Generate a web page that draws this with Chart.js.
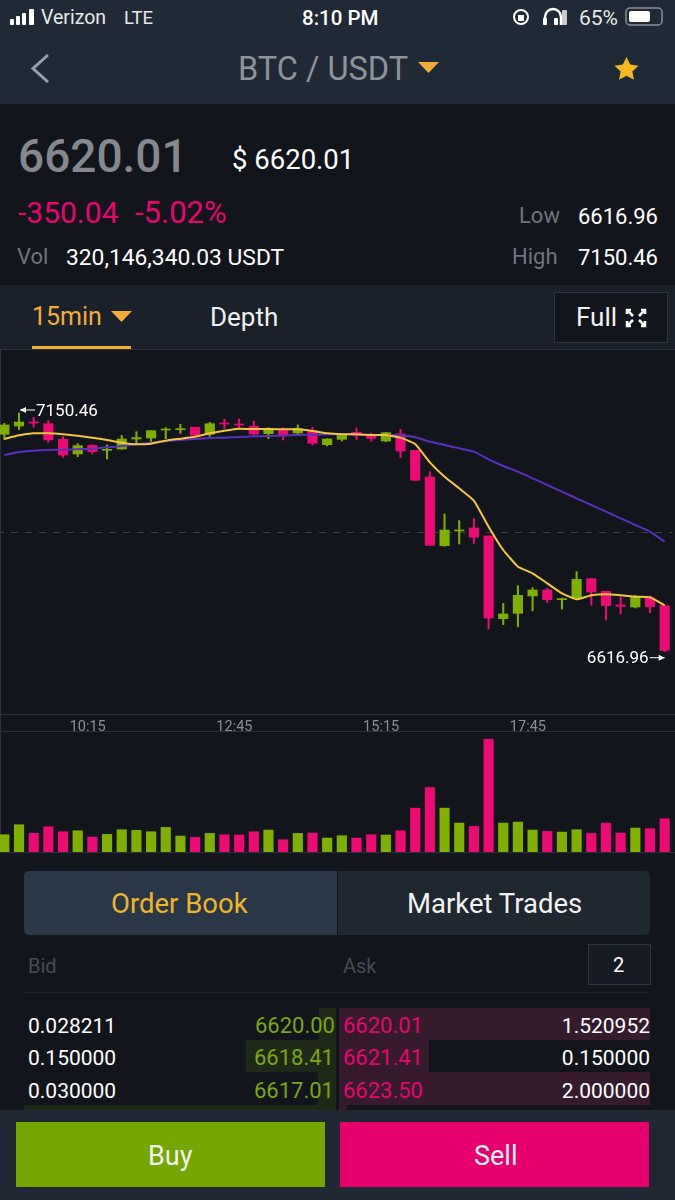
<!DOCTYPE html>
<html>
<head>
<meta charset="utf-8">
<script src="https://cdn.jsdelivr.net/npm/chart.js@4"></script>
<style>
html, body { margin: 0; padding: 0; background: #12151c; }
body { position: relative; width: 675px; height: 1200px; overflow: hidden; font-family: Roboto, sans-serif; color: #fff; }
.b { position: absolute; }
.t { position: absolute; line-height: 0; white-space: nowrap; }
canvas { position: absolute; }
</style>
</head>
<body>
<!-- top bars -->
<div class="b" style="left:0;top:0;width:675px;height:104px;background:#202a36"></div>
<div class="b" style="left:0;top:285px;width:675px;height:64px;background:#1a212a"></div>
<div class="b" style="left:32px;top:346px;width:99px;height:3px;background:#f5ac37"></div>
<div class="b" style="left:554px;top:292px;width:112px;height:49px;background:#12151c;border:1px solid #2c3541"></div>
<div class="b" style="left:0;top:349px;width:675px;height:1px;background:#2c323b"></div>
<div class="b" style="left:0;top:350px;width:1px;height:502px;background:#2c323b"></div>
<div class="b" style="left:0;top:714px;width:675px;height:1px;background:#2c323b"></div>
<div class="b" style="left:0;top:731px;width:675px;height:1px;background:#2c323b"></div>
<div class="b" style="left:0;top:852px;width:675px;height:1px;background:#2c323b"></div>

<!-- status bar -->
<svg class="b" style="left:0;top:0" width="675" height="104">
  <rect x="10" y="19" width="4" height="6" rx="1" fill="#fff"/>
  <rect x="16" y="16" width="4" height="9" rx="1" fill="#fff"/>
  <rect x="22" y="13" width="4" height="12" rx="1" fill="#fff"/>
  <rect x="29" y="9" width="5" height="16" rx="1" fill="#fff"/>
  <circle cx="521" cy="17" r="7" fill="none" stroke="#fff" stroke-width="2"/>
  <rect x="518" y="15" width="6" height="6" fill="#fff"/>
  <path d="M545 25v-8a8 8 0 0 1 16 0v8" fill="none" stroke="#fff" stroke-width="2.5"/>
  <rect x="543" y="18" width="4" height="7" rx="1" fill="#fff"/>
  <rect x="554" y="18" width="4" height="7" rx="1" fill="#fff"/>
  <rect x="562" y="10" width="5" height="15" rx="1" fill="#ccc"/>
  <rect x="626" y="8" width="36" height="17" rx="4" fill="none" stroke="#8a8f96" stroke-width="1.5"/>
  <rect x="629" y="11" width="21" height="11" rx="2" fill="#fff"/>
  <path d="M48 55l-15 13.500l15 13.500" fill="none" stroke="#9aa0a8" stroke-width="3"/>
  <path d="M418 62h21l-10.500 11z" fill="#f5ac37"/>
  <path d="M626.500 57l3.700 7.600l8.300 1.100l-6.100 5.800l1.500 8.300l-7.400-4l-7.400 4l1.500-8.300l-6.100-5.800l8.300-1.100z" fill="#f5b81f"/>
</svg>
<span class="t" style="left:41px;top:18px;font-size:19.500px;color:#e8e8e8">Verizon</span>
<span class="t" style="left:124px;top:18px;font-size:18.500px;color:#e8e8e8">LTE</span>
<span class="t" style="left:302px;top:18px;font-size:20.500px;font-weight:500">8:10 PM</span>
<span class="t" style="left:579px;top:18px;font-size:21px;color:#e8e8e8">65%</span>
<span class="t" style="left:238px;top:69px;font-size:32.500px;color:#8d939b">BTC / USDT</span>

<!-- price panel -->
<span class="t" style="left:18px;top:156px;font-size:46px;font-weight:500;color:#85888e">6620.01</span>
<span class="t" style="left:232px;top:160px;font-size:27.500px">$ 6620.01</span>
<span class="t" style="left:18px;top:213px;font-size:30px;color:#e5076e">-350.04</span>
<span class="t" style="left:135px;top:213px;font-size:31px;color:#e5076e">-5.02%</span>
<span class="t" style="left:17px;top:257px;font-size:22px;color:#6f747c">Vol</span>
<span class="t" style="left:66px;top:258px;font-size:22.800px">320,146,340.03 USDT</span>
<span class="t" style="left:519px;top:216px;font-size:22px;color:#6f747c">Low</span>
<span class="t" style="left:578px;top:217px;font-size:22px">6616.96</span>
<span class="t" style="left:512px;top:257px;font-size:22px;color:#6f747c">High</span>
<span class="t" style="left:578px;top:258px;font-size:22px">7150.46</span>

<!-- tab strip -->
<span class="t" style="left:32px;top:317px;font-size:25px;color:#f5ac37">15min</span>
<svg class="b" style="left:0;top:285px" width="675" height="64">
  <path d="M111 26h21l-10.500 11z" fill="#f5ac37"/>
  <g fill="none" stroke="#fff" stroke-width="2.500">
    <path d="M627 29v-4h4M645 29v-4h-4M627 36v5h4M645 36v5h-4"/>
    <path d="M627 25l6 6M645 25l-6 6M627 41l6-6M645 41l-6-6"/>
  </g>
</svg>
<span class="t" style="left:210px;top:317px;font-size:26px;color:#f0f0f0">Depth</span>
<span class="t" style="left:576px;top:317px;font-size:26px;color:#f0f0f0">Full</span>

<canvas id="candleChart" width="675" height="381" style="left:-2.600px;top:350px;width:675px;height:381px"></canvas>
<canvas id="volumeChart" width="675" height="119" style="left:-2.600px;top:733px;width:675px;height:119px"></canvas>

<!-- order book -->
<div class="b" style="left:24px;top:871px;width:313px;height:64px;background:#2a3748;border-radius:5px 0 0 5px"></div>
<div class="b" style="left:338px;top:871px;width:312px;height:64px;background:#1f2731;border-radius:0 5px 5px 0"></div>
<span class="t" style="left:111px;top:904px;font-size:27.500px;color:#f0b429">Order Book</span>
<span class="t" style="left:407px;top:904px;font-size:27.500px;color:#f2f2f2">Market Trades</span>
<span class="t" style="left:28px;top:966px;font-size:20px;color:#474c54">Bid</span>
<span class="t" style="left:343px;top:966px;font-size:20px;color:#474c54">Ask</span>
<div class="b" style="left:588px;top:944px;width:61px;height:39px;background:#171c24;border:1px solid #2c3541"></div>
<span class="t" style="left:613px;top:965px;font-size:20px">2</span>
<div class="b" style="left:24px;top:992px;width:626px;height:1px;background:#1e232b"></div>

<div class="b" style="left:319px;top:1008px;width:17px;height:32px;background:#1e2a17"></div>
<div class="b" style="left:246px;top:1040px;width:90px;height:32px;background:#1e2a17"></div>
<div class="b" style="left:318px;top:1072px;width:18px;height:33px;background:#1e2a17"></div>
<div class="b" style="left:24px;top:1105px;width:312px;height:5px;background:#1e2a17"></div>
<div class="b" style="left:339px;top:1008px;width:311px;height:32px;background:#361a2d"></div>
<div class="b" style="left:339px;top:1040px;width:90px;height:32px;background:#361a2d"></div>
<div class="b" style="left:339px;top:1072px;width:311px;height:33px;background:#361a2d"></div>
<div class="b" style="left:339px;top:1105px;width:8px;height:5px;background:#361a2d"></div>

<span class="t" style="left:28px;top:1026px;font-size:21px">0.028211</span>
<span class="t" style="left:28px;top:1058px;font-size:21px">0.150000</span>
<span class="t" style="left:28px;top:1091px;font-size:21px">0.030000</span>
<span class="t" style="right:340px;top:1026px;font-size:22px;color:#7ba60f">6620.00</span>
<span class="t" style="right:341px;top:1058px;font-size:22px;color:#7ba60f">6618.41</span>
<span class="t" style="right:341px;top:1091px;font-size:22px;color:#7ba60f">6617.01</span>
<span class="t" style="left:343px;top:1026px;font-size:22px;color:#e5076e">6620.01</span>
<span class="t" style="left:343px;top:1058px;font-size:22px;color:#e5076e">6621.41</span>
<span class="t" style="left:343px;top:1091px;font-size:22px;color:#e5076e">6623.50</span>
<span class="t" style="right:25px;top:1026px;font-size:21px">1.520952</span>
<span class="t" style="right:25px;top:1058px;font-size:21px">0.150000</span>
<span class="t" style="right:25px;top:1091px;font-size:21px">2.000000</span>

<!-- buy / sell -->
<div class="b" style="left:0;top:1110px;width:675px;height:90px;background:#1f2833"></div>
<div class="b" style="left:16px;top:1122px;width:309px;height:65px;background:#74a700"></div>
<div class="b" style="left:340px;top:1122px;width:309px;height:65px;background:#e6006e"></div>
<span class="t" style="left:148px;top:1156px;font-size:27px;color:#f2f2f2">Buy</span>
<span class="t" style="left:474px;top:1156px;font-size:27px;color:#f2f2f2">Sell</span>

<script>
'use strict';
let times = ['08:45', '09:00', '09:15', '09:30', '09:45', '10:00', '10:15', '10:30', '10:45', '11:00', '11:15', '11:30', '11:45', '12:00', '12:15', '12:30', '12:45', '13:00', '13:15', '13:30', '13:45', '14:00', '14:15', '14:30', '14:45', '15:00', '15:15', '15:30', '15:45', '16:00', '16:15', '16:30', '16:45', '17:00', '17:15', '17:30', '17:45', '18:00', '18:15', '18:30', '18:45', '19:00', '19:15', '19:30', '19:45', '20:00'];
let tickLabels = ['10:15', '12:45', '15:15', '17:45'];

let opens = [7102.8, 7121.4, 7130.4, 7126.6, 7091.6, 7058.9, 7078.2, 7067.0, 7070.0, 7092.4, 7094.6, 7112.5, 7113.2, 7118.5, 7102.8, 7128.1, 7125.9, 7120.7, 7104.3, 7112.5, 7105.8, 7111.0, 7079.7, 7091.6, 7107.3, 7102.1, 7087.9, 7103.6, 7067.0, 7007.4, 6854.0, 6886.8, 6893.5, 6875.6, 6690.8, 6702.8, 6741.5, 6754.9, 6733.3, 6737.0, 6780.2, 6751.9, 6721.4, 6716.9, 6737.0, 6719.9];
let highs = [7127.4, 7150.46, 7140.8, 7133.4, 7097.6, 7082.0, 7079.0, 7079.0, 7100.6, 7108.8, 7111.0, 7117.7, 7125.2, 7118.5, 7129.6, 7137.1, 7137.1, 7132.6, 7117.7, 7117.7, 7123.7, 7118.5, 7093.1, 7105.0, 7117.0, 7105.0, 7107.3, 7114.0, 7067.0, 7019.4, 6924.8, 6909.9, 6914.3, 6875.6, 6725.1, 6764.6, 6760.1, 6758.6, 6737.0, 6795.9, 6780.2, 6751.9, 6739.2, 6743.0, 6741.5, 6719.9];
let lows = [7091.6, 7113.2, 7118.5, 7084.9, 7051.4, 7052.9, 7058.9, 7047.7, 7069.3, 7080.5, 7086.4, 7093.1, 7105.0, 7100.6, 7098.3, 7116.2, 7114.7, 7101.3, 7093.1, 7090.2, 7104.3, 7079.0, 7076.7, 7087.9, 7091.6, 7087.2, 7086.4, 7050.7, 7000.0, 6854.7, 6852.5, 6857.7, 6859.2, 6667.7, 6677.4, 6672.9, 6708.7, 6726.6, 6712.4, 6734.0, 6720.6, 6687.9, 6701.3, 6714.7, 6704.2, 6616.96];
let closes = [7123.7, 7130.4, 7128.1, 7090.2, 7056.6, 7077.5, 7064.1, 7069.3, 7092.4, 7095.4, 7111.0, 7114.7, 7115.5, 7100.6, 7126.6, 7125.9, 7123.7, 7103.6, 7114.7, 7101.3, 7115.5, 7082.7, 7092.4, 7102.1, 7100.6, 7093.9, 7106.5, 7065.6, 7000.0, 6854.7, 6889.0, 6889.0, 6872.6, 6692.3, 6701.3, 6743.0, 6754.9, 6733.3, 6735.5, 6778.7, 6750.4, 6719.9, 6718.4, 6739.2, 6717.7, 6620.01];
let maShort = [7092.4, 7100.6, 7105.0, 7105.0, 7102.8, 7099.8, 7095.4, 7090.2, 7084.2, 7080.5, 7082.0, 7088.7, 7093.1, 7097.6, 7105.0, 7111.0, 7115.5, 7114.7, 7114.7, 7114.0, 7114.0, 7110.3, 7105.0, 7102.8, 7102.8, 7101.3, 7101.3, 7095.4, 7081.2, 7040.2, 7008.2, 6982.1, 6954.6, 6896.4, 6844.3, 6807.0, 6792.2, 6769.8, 6747.4, 6734.0, 6743.0, 6745.2, 6743.0, 6740.0, 6738.5, 6720.6];
let maLong = [7056.6, 7063.3, 7066.3, 7067.8, 7068.5, 7069.3, 7070.8, 7073.8, 7076.7, 7080.5, 7084.2, 7087.9, 7090.2, 7092.4, 7094.6, 7095.4, 7096.9, 7098.3, 7099.1, 7099.8, 7101.3, 7102.1, 7102.8, 7102.8, 7102.8, 7101.3, 7101.3, 7100.6, 7096.1, 7086.4, 7079.0, 7071.5, 7064.1, 7046.9, 7032.0, 7019.4, 7004.5, 6989.6, 6974.7, 6959.8, 6944.9, 6930.0, 6915.1, 6900.2, 6885.3, 6862.9];
let volumes = [52, 82, 56, 76, 61, 64, 45, 53, 67, 65, 61, 74, 48, 44, 56, 52, 51, 61, 66, 37, 56, 57, 42, 49, 42, 52, 51, 64, 132, 194, 132, 87, 77, 339, 87, 90, 66, 62, 60, 67, 56, 87, 57, 72, 70, 100];

let upColor = '#7fb000';
let downColor = '#ec0a75';
let priceMin = 6477.7;
let priceMax = 7291.3;

let colors = [];
for (let i = 0; i < closes.length; i++) {
    colors.push(closes[i] >= opens[i] ? upColor : downColor);
}

let wicks = [];
let bodies = [];
for (let i = 0; i < closes.length; i++) {
    wicks.push([lows[i], highs[i]]);
    bodies.push([opens[i], closes[i]]);
}

function drawArrow(ctx, fromX, toX, y) {
    let dir = toX > fromX ? 1 : -1;
    ctx.beginPath();
    ctx.moveTo(fromX, y);
    ctx.lineTo(toX, y);
    ctx.stroke();
    ctx.beginPath();
    ctx.moveTo(toX, y);
    ctx.lineTo(toX - dir * 6, y - 3);
    ctx.lineTo(toX - dir * 6, y + 3);
    ctx.closePath();
    ctx.fill();
}

// high and low markers, placed from the price scale
let extremeLabels = {
    id: 'extremeLabels',
    afterDatasetsDraw(chart) {
        let ctx = chart.ctx;
        let hi = highs.indexOf(Math.max(...highs));
        let lo = lows.indexOf(Math.min(...lows));
        let hiX = chart.scales.x.getPixelForValue(hi);
        let hiY = chart.scales.y.getPixelForValue(highs[hi]) - 3;
        let loX = chart.scales.x.getPixelForValue(lo);
        let loY = chart.scales.y.getPixelForValue(lows[lo]) + 6;
        ctx.save();
        ctx.fillStyle = '#fff';
        ctx.strokeStyle = '#fff';
        ctx.lineWidth = 1;
        ctx.font = '17px Roboto';
        ctx.textBaseline = 'middle';
        ctx.textAlign = 'left';
        drawArrow(ctx, hiX + 16, hiX + 1, hiY);
        ctx.fillText(highs[hi], hiX + 17, hiY + 1.5);
        ctx.textAlign = 'right';
        drawArrow(ctx, loX - 15, loX, loY);
        ctx.fillText(lows[lo], loX - 16, loY + 1.5);
        ctx.restore();
    }
};

new Chart(document.getElementById('candleChart'), {
    type: 'bar',
    data: {
        labels: times,
        datasets: [
            { type: 'line', data: maShort, borderColor: '#f3c63f', borderWidth: 2, pointRadius: 0, tension: 0.12, order: 1 },
            { type: 'line', data: maLong, borderColor: '#5b2fc0', borderWidth: 2, pointRadius: 0, tension: 0.12, order: 2 },
            { data: bodies, backgroundColor: colors, barThickness: 9.5, grouped: false, order: 3 },
            { data: wicks, backgroundColor: colors, barThickness: 1.4, grouped: false, order: 4 }
        ]
    },
    options: {
        responsive: false,
        animation: false,
        layout: { padding: 0 },
        plugins: { legend: { display: false }, tooltip: { enabled: false } },
        scales: {
            x: {
                grid: { display: false, drawTicks: false, tickLength: 0 },
                border: { display: false },
                afterFit(scale) { scale.height = 17; },
                ticks: {
                    autoSkip: false,
                    maxRotation: 0,
                    minRotation: 0,
                    padding: 5,
                    labelOffset: -4.7,
                    color: '#8a8f96',
                    font: { family: 'Roboto', size: 14.5 },
                    callback(value) {
                        let label = this.getLabelForValue(value);
                        return tickLabels.includes(label) ? label : '';
                    }
                }
            },
            y: {
                min: priceMin,
                max: priceMax,
                afterFit(scale) { scale.width = 0; },
                afterBuildTicks(scale) { scale.ticks = [{ value: (priceMin + priceMax) / 2 }]; },
                ticks: { display: false },
                grid: { color: '#3a3f47', lineWidth: 1, drawTicks: false },
                border: { display: false, dash: [7, 7] }
            }
        }
    },
    plugins: [extremeLabels]
});

new Chart(document.getElementById('volumeChart'), {
    type: 'bar',
    data: {
        labels: times,
        datasets: [{ data: volumes, backgroundColor: colors, barThickness: 9.5 }]
    },
    options: {
        responsive: false,
        animation: false,
        layout: { padding: 0 },
        plugins: { legend: { display: false }, tooltip: { enabled: false } },
        scales: {
            x: { display: false },
            y: { display: false, min: 0, max: 358 }
        }
    }
});
</script>
</body>
</html>
